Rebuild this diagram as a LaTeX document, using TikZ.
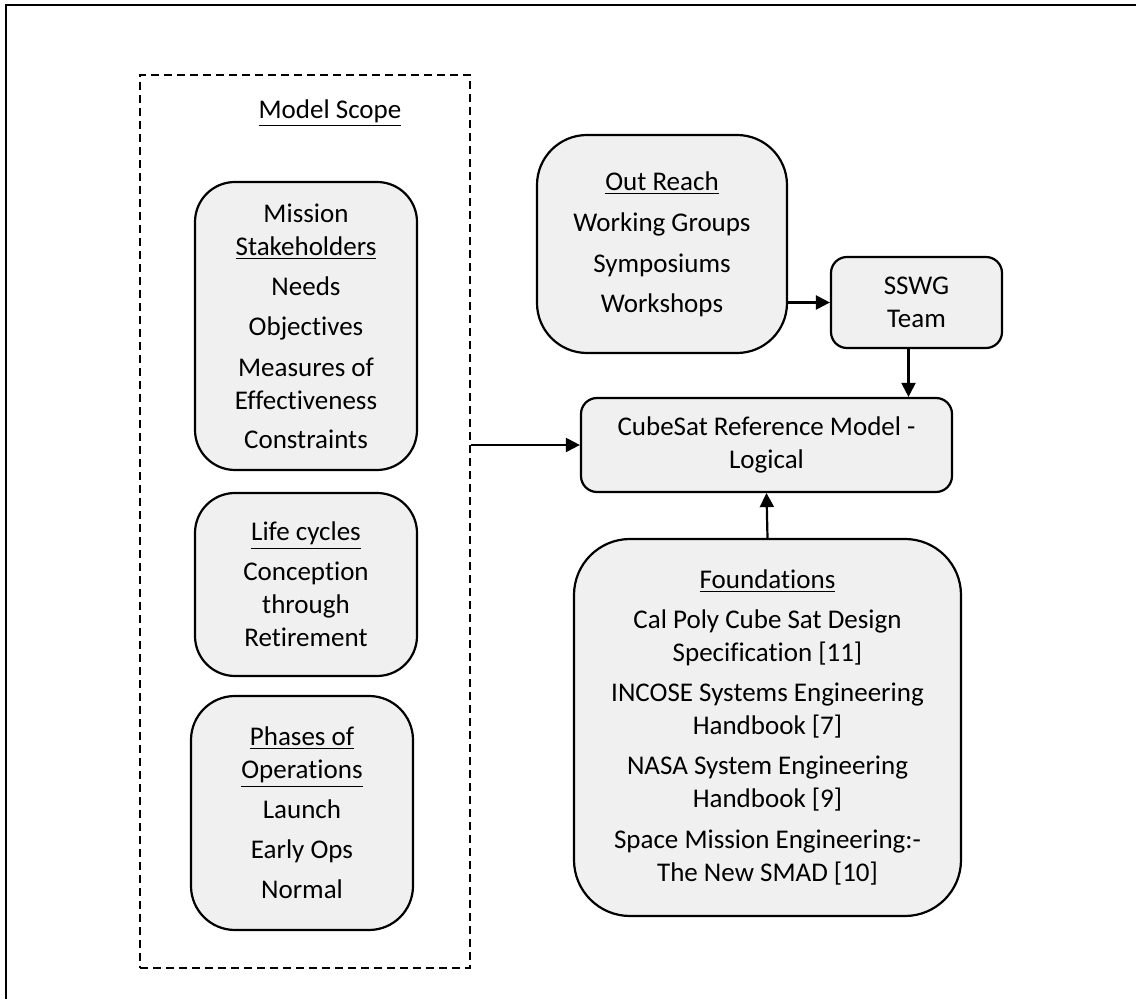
\documentclass[tikz,border=0pt]{standalone}
\usepackage{fontspec}
\setmainfont{Carlito}[Ligatures=NoCommon]
\usetikzlibrary{arrows.meta}
\definecolor{boxfill}{RGB}{240,240,240}

\begin{document}
\begin{tikzpicture}[x=0.5pt,y=-0.5pt,
	box/.style={draw, line width=1.1pt, fill=boxfill, align=center, inner sep=0pt,
		font=\fontsize{13.5}{16.5}\selectfont},
	arr/.style={line width=1.1pt, -{Triangle[length=7pt,width=7pt]}}]
	  \useasboundingbox (0,0) rectangle (1136,999);
	  \draw[line width=1.2pt] (6,999) -- (6,5) -- (1136,5);   % outer frame

	  % model scope (dashed)
	  \node[draw, line width=1.1pt, dash pattern=on 4pt off 2.5pt, minimum width=165pt, minimum height=446.5pt] (scope) at (305,521.5) {};
	  \node[font=\fontsize{13.5}{16.5}\selectfont] (scopetitle) at (330,113) {\underline{Model Scope}};

	  \node[box, rounded corners=20pt, minimum width=111pt, minimum height=144pt] (mission) at (306,326)
	    {Mission\\ \underline{Stakeholders}\\[3.5pt] Needs\\[3.5pt] Objectives\\[4pt] Measures of\\ Effectiveness\\[3pt] Constraints};
	  \node[box, rounded corners=20pt, minimum width=111pt, minimum height=91.5pt] (life) at (306,584.5)
	    {\underline{Life cycles}\\[3.5pt] Conception\\ through\\ Retirement};
	  \node[box, rounded corners=22pt, minimum width=111pt, minimum height=117pt] (phases) at (302,813)
	    {\underline{Phases of}\\ \underline{Operations}\\[3.5pt] Launch\\[3.5pt] Early Ops\\[3.5pt] Normal};

	  % right column
	  \node[box, rounded corners=25pt, minimum width=125pt, minimum height=109pt] (outreach) at (662,244)
	    {\underline{Out Reach}\\[4pt] Working Groups\\[4pt] Symposiums\\[3.5pt] Workshops};
	  \node[box, rounded corners=8pt, minimum width=85.5pt, minimum height=45.5pt] (sswg) at (916.5,302.5)
	    {SSWG\\ Team};
	  \node[box, rounded corners=8pt, minimum width=185.5pt, minimum height=47pt] (cube) at (766.5,445)
	    {CubeSat Reference Model -\\ Logical};
	  \node[box, rounded corners=28pt, minimum width=193.5pt, minimum height=188.5pt] (found) at (767.5,727.5)
	    {\underline{Foundations}\\[3.5pt] Cal Poly Cube Sat Design\\ Specification [11]\\[3.5pt]
	     INCOSE Systems Engineering\\ Handbook [7]\\[3.5pt] NASA System Engineering\\ Handbook [9]\\[4pt]
	     Space Mission Engineering:-\\ The New SMAD [10]};

	  % connectors
	  \draw[arr] (scope.east |- cube.west) -- (cube.west);
	  \draw[arr] (outreach.east |- sswg.west) -- (sswg.west);
	  \draw[arr] ([xshift=-4pt]sswg.south) -- ([xshift=-4pt]sswg.south |- cube.north);
	  \draw[arr] (found.north) -- (cube.south);
	\end{tikzpicture}
\end{document}
